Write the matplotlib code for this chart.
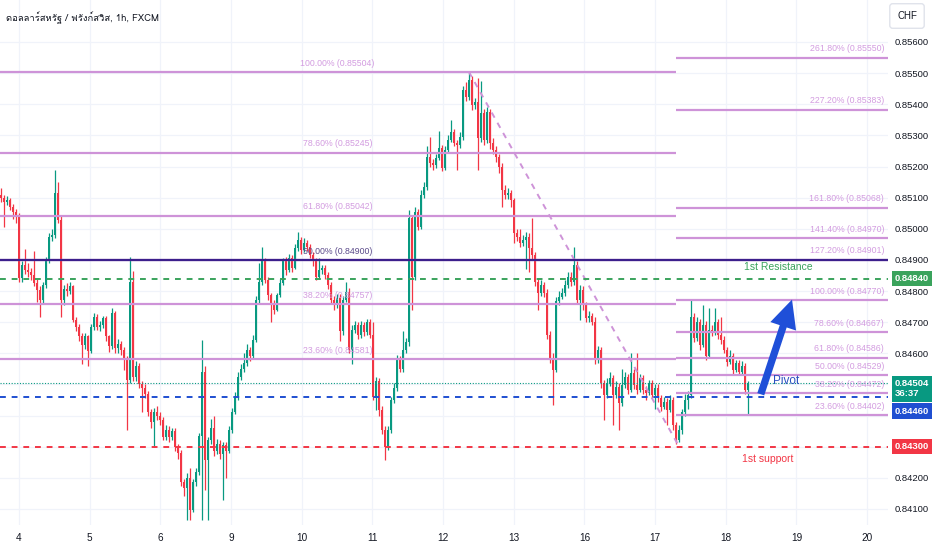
import matplotlib
matplotlib.use("Agg")
import matplotlib.pyplot as plt
import matplotlib.font_manager as fm
import numpy as np

# hourly candles, prices in 1e-5 units (points)
first_open = 85109
closes = [
    85100, 85087, 85093, 85071, 85055, 85045, 84843, 84884, 84868, 84862,
    84852, 84827, 84804, 84772, 84820, 84901, 84975, 84981, 85116, 85029,
    84772, 84807, 84800, 84815, 84708, 84686, 84654, 84628, 84654, 84606,
    84686, 84718, 84686, 84690, 84714, 84654, 84622, 84730, 84618, 84630,
    84612, 84579, 84515, 84830, 84525, 84560, 84500, 84490, 84470, 84410,
    84380, 84413, 84400, 84385, 84330, 84355, 84330, 84350, 84300, 84280,
    84185, 84168, 84200, 84098, 84185, 84218, 84335, 84540, 84258, 84320,
    84360, 84285, 84310, 84275, 84305, 84285, 84355, 84413, 84460, 84525,
    84550, 84570, 84612, 84590, 84644, 84772, 84830, 84895, 84836, 84788,
    84756, 84740, 84788, 84827, 84895, 84868, 84907, 84875, 84939, 84965,
    84933, 84955, 84942, 84917, 84895, 84846, 84868, 84875, 84852, 84820,
    84772, 84756, 84779, 84670, 84772, 84798, 84612, 84676, 84692, 84660,
    84690, 84668, 84700, 84660, 84461, 84510, 84419, 84355, 84300, 84355,
    84451, 84490, 84580, 84550, 84612, 84635, 85035, 84846, 85055, 85006,
    85110, 85135, 85231, 85212, 85205, 85228, 85260, 85196, 85254, 85286,
    85311, 85276, 85270, 85295, 85446, 85424, 85478, 85398, 85408, 85292,
    85372, 85286, 85376, 85276, 85254, 85231, 85199, 85125, 85109, 85115,
    85093, 84987, 84975, 84955, 84965, 84975, 84939, 84917, 84830, 84795,
    84820, 84795, 84660, 84585, 84547, 84768, 84782, 84795, 84820, 84846,
    84830, 84884, 84772, 84804, 84756, 84714, 84720, 84701, 84579, 84612,
    84505, 84467, 84505, 84521, 84467, 84493, 84441, 84499, 84525, 84483,
    84537, 84499, 84483, 84521, 84483, 84473, 84505, 84467, 84490, 84457,
    84429, 84445, 84419, 84451, 84371, 84323, 84355, 84410, 84451, 84467,
    84717, 84650, 84701, 84628, 84692, 84590, 84676, 84670, 84701, 84660,
    84644, 84612, 84573, 84590, 84547, 84570, 84540, 84560, 84483, 84504,
]
highs = [
    85130, 85110, 85105, 85100, 85080, 85065, 85050, 84895, 84935, 84890,
    84875, 84930, 84840, 84815, 84830, 84910, 84985, 85000, 85189, 85150,
    85040, 84820, 84825, 84830, 84820, 84715, 84695, 84665, 84665, 84660,
    84695, 84730, 84725, 84705, 84720, 84720, 84660, 84745, 84735, 84645,
    84640, 84620, 84590, 84910, 84865, 84575, 84570, 84510, 84500, 84480,
    84420, 84425, 84430, 84410, 84395, 84370, 84365, 84360, 84360, 84310,
    84290, 84195, 84215, 84230, 84195, 84230, 84345, 84644, 84560, 84330,
    84390, 84400, 84325, 84320, 84315, 84315, 84365, 84425, 84475, 84540,
    84565, 84600, 84630, 84620, 84660, 84785, 84890, 84940, 84905, 84845,
    84795, 84770, 84795, 84840, 84905, 84910, 84920, 84915, 84950, 84990,
    84975, 84970, 84965, 84950, 84925, 84905, 84905, 84885, 84885, 84860,
    84830, 84785, 84790, 84790, 84785, 84830, 84810, 84690, 84705, 84700,
    84705, 84700, 84710, 84710, 84700, 84525, 84520, 84430, 84365, 84365,
    84460, 84505, 84595, 84590, 84670, 84650, 85060, 85045, 85070, 85065,
    85125, 85150, 85265, 85295, 85225, 85240, 85315, 85270, 85265, 85300,
    85350, 85320, 85285, 85310, 85460, 85470, 85504, 85490, 85420, 85485,
    85475, 85385, 85390, 85385, 85290, 85265, 85240, 85210, 85140, 85130,
    85125, 85100, 85000, 85000, 84980, 84990, 84985, 85035, 84925, 84840,
    84835, 84830, 84805, 84670, 84600, 84780, 84800, 84810, 84835, 84860,
    84860, 84940, 84895, 84820, 84815, 84765, 84735, 84730, 84715, 84625,
    84620, 84515, 84520, 84540, 84530, 84510, 84505, 84550, 84540, 84535,
    84600, 84550, 84600, 84535, 84530, 84495, 84515, 84515, 84500, 84500,
    84465, 84460, 84455, 84465, 84460, 84380, 84370, 84420, 84470, 84480,
    84772, 84730, 84715, 84710, 84756, 84705, 84745, 84690, 84745, 84710,
    84715, 84655, 84620, 84612, 84600, 84580, 84580, 84575, 84570, 84510,
]
lows = [
    85085, 85005, 85075, 85060, 85030, 85020, 84830, 84830, 84855, 84845,
    84835, 84815, 84765, 84715, 84760, 84810, 84890, 84960, 84970, 85020,
    84715, 84755, 84785, 84790, 84700, 84670, 84640, 84565, 84615, 84560,
    84600, 84675, 84675, 84670, 84680, 84640, 84605, 84615, 84600, 84600,
    84595, 84545, 84355, 84505, 84510, 84510, 84490, 84410, 84455, 84400,
    84360, 84300, 84385, 84370, 84320, 84320, 84315, 84320, 84285, 84260,
    84175, 84140, 84066, 84066, 84090, 84175, 84210, 84066, 84162, 84066,
    84310, 84270, 84275, 84260, 84130, 84200, 84280, 84345, 84405, 84450,
    84515, 84540, 84560, 84575, 84585, 84635, 84760, 84820, 84825, 84770,
    84700, 84725, 84735, 84780, 84820, 84850, 84860, 84860, 84870, 84930,
    84920, 84925, 84930, 84905, 84880, 84835, 84840, 84855, 84840, 84805,
    84760, 84740, 84745, 84640, 84660, 84765, 84600, 84565, 84665, 84645,
    84650, 84655, 84660, 84650, 84450, 84419, 84400, 84340, 84258, 84290,
    84345, 84440, 84480, 84540, 84540, 84600, 84625, 84740, 84835, 84995,
    85000, 85100, 85125, 85200, 85190, 85195, 85220, 85185, 85190, 85245,
    85280, 85265, 85190, 85260, 85285, 85410, 85415, 85380, 85385, 85190,
    85280, 85270, 85275, 85255, 85240, 85215, 85180, 85070, 85095, 85095,
    85070, 84955, 84960, 84940, 84945, 84870, 84860, 84900, 84815, 84740,
    84785, 84780, 84645, 84570, 84435, 84540, 84755, 84775, 84785, 84810,
    84815, 84820, 84760, 84708, 84740, 84700, 84700, 84690, 84565, 84570,
    84490, 84387, 84455, 84495, 84370, 84455, 84355, 84430, 84490, 84470,
    84475, 84485, 84470, 84475, 84470, 84450, 84465, 84455, 84420, 84445,
    84415, 84420, 84370, 84410, 84355, 84310, 84315, 84340, 84400, 84420,
    84455, 84635, 84640, 84610, 84620, 84580, 84585, 84655, 84660, 84645,
    84630, 84600, 84560, 84565, 84535, 84540, 84530, 84530, 84470, 84403,
]

day_labels = ["4", "5", "6", "9", "10", "11", "12", "13", "16", "17", "18", "19", "20"]
price_ticks = [0.856, 0.855, 0.854, 0.853, 0.852, 0.851, 0.850, 0.849,
               0.848, 0.847, 0.846, 0.845, 0.844, 0.843, 0.842, 0.841]
hidden_ticks = [0.845, 0.844, 0.843]  # covered by the price tags

fib_left_pct = ["100.00%", "78.60%", "61.80%", "50.00%", "38.20%", "23.60%"]
fib_left_val = [0.85504, 0.85245, 0.85042, 0.84900, 0.84757, 0.84581]
fib_right_pct = ["261.80%", "227.20%", "161.80%", "141.40%", "127.20%", "100.00%",
                 "78.60%", "61.80%", "50.00%", "38.20%", "23.60%"]
fib_right_val = [0.85550, 0.85383, 0.85068, 0.84970, 0.84901, 0.84770,
                 0.84667, 0.84586, 0.84529, 0.84472, 0.84402]

resistance = 0.84840
pivot = 0.84460
support = 0.84300
mid_line = 0.84900
last_price = 0.84504
countdown = "36:37"

# find a font with Thai glyphs for the title
thai_font = None
try:
    from fontTools.ttLib import TTFont
    for f in fm.fontManager.ttflist:
        try:
            if 0x0E14 in TTFont(f.fname, fontNumber=0).getBestCmap():
                thai_font = f.name
                break
        except Exception:
            pass
except ImportError:
    pass

plt.rcParams['font.family'] = ['Liberation Sans', 'DejaVu Sans']

UP = '#089981'
DOWN = '#f23645'
FIB = '#ce93d8'
FIB_TXT = '#d39ce0'

c = np.array(closes) / 1e5
o = np.array([first_open] + closes[:-1]) / 1e5
h = np.array(highs) / 1e5
l = np.array(lows) / 1e5
x = np.arange(len(c))
col = np.where(c >= o, UP, DOWN)

fig = plt.figure(figsize=(9.32, 5.5), dpi=100)
ax = fig.add_axes([0, 25 / 550, 888 / 932, 525 / 550])
ax.set_xlim(-0.3, 295.7)
ax.set_ylim(0.840484, 0.857349)

# grid
day_pos = 6.03 + 23.56 * np.arange(len(day_labels))
for p in day_pos:
    ax.axvline(p, color='#f0f3fa', lw=0.9, zorder=0)
for p in price_ticks:
    ax.axhline(p, color='#f0f3fa', lw=0.9, zorder=0)

# candles
ax.vlines(x, l, h, colors=col, lw=0.9, zorder=2)
body = np.maximum(np.abs(c - o), 0.000015)
ax.bar(x, body, bottom=np.minimum(o, c), width=0.68, color=col, zorder=2)

# fib retracement (left) and extension (right)
split = 225.0
for pct, v in zip(fib_left_pct, fib_left_val):
    ax.hlines(v, -0.3, split, color=FIB, lw=1.6, zorder=3)
    tc = '#5b4a8a' if pct == "50.00%" else FIB_TXT
    ax.text(112.2, v + 0.00014, f"{pct} ({v:.5f})", color=tc, fontsize=6.3,
            ha='center', va='bottom', zorder=4)
for pct, v in zip(fib_right_pct, fib_right_val):
    ax.hlines(v, split, 295.7, color=FIB, lw=1.6, zorder=3)
    ax.text(294.4, v + 0.00014, f"{pct} ({v:.5f})", color=FIB_TXT, fontsize=6.3,
            ha='right', va='bottom', zorder=4)

# trend line from the top to the low
ax.plot([156, 225.5], [h[156], l[225]], color=FIB, lw=1.4, ls=(0, (3, 3)), zorder=3)

# key levels
ax.axhline(mid_line, color='#3c1f8c', lw=1.6, zorder=3)
ax.axhline(resistance, color='#3aa35c', lw=1.4, ls=(0, (3, 3)), zorder=3)
ax.axhline(pivot, color='#1f4fd1', lw=1.4, ls=(0, (3, 3)), zorder=3)
ax.axhline(support, color=DOWN, lw=1.4, ls=(0, (3, 3)), zorder=3)
ax.axhline(last_price, color=UP, lw=0.8, ls=(0, (1, 1.5)), zorder=3)

ax.text(259, 0.84878, "1st Resistance", color='#3aa35c', fontsize=7.5, ha='center', va='center', zorder=5)
ax.text(255.7, 0.84262, "1st support", color=DOWN, fontsize=7.5, ha='center', va='center', zorder=5)
ax.text(261.7, 0.84511, "Pivot", color='#2a4fc0', fontsize=8.5, ha='center', va='center', zorder=5)
ax.annotate("", xy=(264.0, 0.84781), xytext=(253.0, pivot),
            arrowprops=dict(arrowstyle='simple,head_length=1.35,head_width=1.3,tail_width=0.35',
                            mutation_scale=15, color='#1f4fd8', lw=0), zorder=6)

# axes styling
for s in ax.spines.values():
    s.set_visible(False)
ax.yaxis.tick_right()
ax.set_yticks(price_ticks)
ax.set_yticklabels(["" if p in hidden_ticks else f"{p:.5f}" for p in price_ticks])
ax.set_xticks(day_pos)
ax.set_xticklabels(day_labels)
ax.tick_params(axis='y', length=0, pad=5, labelsize=6.8, labelcolor='#131722')
ax.tick_params(axis='x', length=0, pad=6, labelsize=7.2, labelcolor='#131722')

# price tags on the right scale
tag = dict(xycoords=('axes fraction', 'data'), fontsize=6.8, color='white',
           fontweight='bold', ha='left', va='center', zorder=10, annotation_clip=False)
ax.annotate(f"{resistance:.5f}", xy=(1.008, resistance),
            bbox=dict(boxstyle='square,pad=0.35', fc='#3aa35c', ec='none'), **tag)
ax.annotate(f"{last_price:.5f}\n{countdown}", xy=(1.008, 0.84486), linespacing=1.15,
            bbox=dict(boxstyle='square,pad=0.35', fc=UP, ec='none'), **tag)
ax.annotate(f"{pivot:.5f}", xy=(1.008, 0.84414),
            bbox=dict(boxstyle='square,pad=0.35', fc='#1f4fd1', ec='none'), **tag)
ax.annotate(f"{support:.5f}", xy=(1.008, support),
            bbox=dict(boxstyle='square,pad=0.35', fc=DOWN, ec='none'), **tag)

fig.text(907 / 932, 1 - 16 / 550, "CHF", fontsize=7, color='#131722', ha='center', va='center',
         bbox=dict(boxstyle='round,pad=0.75,rounding_size=0.3', fc='white', ec='#e0e3eb'))

title_family = [thai_font, 'DejaVu Sans'] if thai_font else ['DejaVu Sans']
fig.text(6 / 932, 1 - 18 / 550, "ดอลลาร์สหรัฐ / ฟรังก์สวิส, 1h, FXCM", fontsize=6.8,
         color='#131722', ha='left', va='center', family=title_family)

fig.savefig("out.png", dpi=100)
